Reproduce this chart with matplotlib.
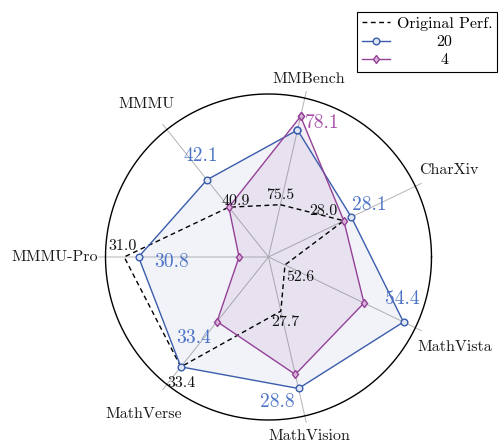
import numpy as np
import matplotlib
matplotlib.use("Agg")
import matplotlib.pyplot as plt

plt.rcParams['font.family'] = ['cmr10', 'DejaVu Serif']
plt.rcParams['axes.formatter.use_mathtext'] = True

# ---------------- data ----------------
categories = ["MMBench", "CharXiv", "MathVista", "MathVision", "MathVerse", "MMMU-Pro", "MMMU"]
orig_perf = [75.5, 28.0, 52.6, 27.7, 33.4, 31.0, 40.9]
s20 = [77.7, 28.1, 54.4, 28.8, 33.4, 30.8, 42.1]
s4 = [78.1, 28.0, 53.8, 28.6, 32.6, 29.4, 40.9]
axis_lo = [73.96, 27.0, 52.35, 26.93, 31.46, 28.99, 38.72]
axis_hi = [78.64, 28.95, 54.58, 29.19, 33.71, 31.26, 44.30]
series_names = ["Original Perf.", "20", "4"]

# ---------------- style ----------------
BLUE = "#3a5cab"
BLUE_TXT = "#4d74c6"
PURPLE = "#944197"
PURPLE_TXT = "#a64ca8"
GRAY = "#b4b4b4"

n = len(categories)
theta = np.deg2rad(77.14 - np.arange(n) * 360.0 / n)


def norm(vals):
    v = np.asarray(vals, float)
    lo = np.asarray(axis_lo)
    hi = np.asarray(axis_hi)
    return (v - lo) / (hi - lo)


def closed(a):
    a = np.asarray(a)
    return np.concatenate([a, a[:1]])


fig = plt.figure(figsize=(5.0, 4.44), dpi=100)
cx, cy, R = 268.5, 444 - 257.0, 163.0
ax = fig.add_axes([(cx - R) / 500, (cy - R) / 444, 2 * R / 500, 2 * R / 444], projection='polar')
ax.set_ylim(0, 1)
ax.grid(False)
ax.set_xticks([])
ax.set_yticks([])
ax.spines['polar'].set_visible(False)
ax.set_facecolor('none')

# outer circle frame
circ_t = np.linspace(0, 2 * np.pi, 721)
ax.plot(circ_t, np.ones_like(circ_t), color='black', lw=1.0, clip_on=False, zorder=3,
        solid_joinstyle='round')

# spokes
for th in theta:
    ax.plot([th, th], [0, 1.04], color=GRAY, lw=0.7, clip_on=False, zorder=1)

r_orig = norm(orig_perf)
r20 = norm(s20)
r4 = norm(s4)
th_c = closed(theta)

ax.fill(th_c, closed(r20), color=BLUE, alpha=0.07, lw=0, zorder=2)
ax.fill(th_c, closed(r4), color=PURPLE, alpha=0.09, lw=0, zorder=2)
l_orig, = ax.plot(th_c, closed(r_orig), color='black', lw=1.0, ls=(0, (3.5, 2.5)), zorder=4,
                  label=series_names[0])
l20, = ax.plot(th_c, closed(r20), color=BLUE, lw=1.0, marker='o', ms=4.8, mfc='#dfe6f4',
               mec=BLUE, mew=1.0, zorder=5, label=series_names[1])
l4, = ax.plot(th_c, closed(r4), color=PURPLE, lw=1.0, marker='d', ms=4.5, mfc='#d9b5d9',
              mec=PURPLE, mew=1.0, zorder=5, label=series_names[2])

# category labels
label_r = [1.12, 1.23, 1.27, 1.13, 1.23, 1.31, 1.20]
for th, lab, rr in zip(theta, categories, label_r):
    ax.text(th, rr, lab, ha='center', va='center', fontsize=11.5, color='#1a1a1a', clip_on=False)

# original value labels (offsets in pixels)
orig_off = [(0, 10), (-20, 10), (15, -12), (4, -11), (1, -16), (-2, 11), (7, 6)]
for th, r, v, off in zip(theta, r_orig, orig_perf, orig_off):
    ax.annotate(f"{v:.1f}", (th, r), xytext=off, textcoords='offset pixels',
                ha='center', va='center', fontsize=11.5, color='#111111', zorder=6,
                annotation_clip=False)

# best of the two series labels
best_off = [(22, -7), (18, 12), (-1, 23), (-21, -14), (13, 29), (33, -5), (-6, 24)]
for i in range(n):
    if s4[i] > s20[i]:
        v, r, c = s4[i], r4[i], PURPLE_TXT
    else:
        v, r, c = s20[i], r20[i], BLUE_TXT
    ax.annotate(f"{v:.1f}", (theta[i], r), xytext=best_off[i], textcoords='offset pixels',
                ha='center', va='center', fontsize=14, color=c, zorder=6,
                annotation_clip=False)

leg = fig.legend(handles=[l_orig, l20, l4], loc='upper right',
                 bbox_to_anchor=(497 / 500, 1 - 12 / 444), borderaxespad=0,
                 fancybox=False, framealpha=1, edgecolor='black', fontsize=11.5,
                 handlelength=1.75, handletextpad=0.4, labelspacing=0.25,
                 borderpad=0.3, numpoints=1)
leg.get_frame().set_linewidth(0.8)

fig.canvas.draw()
texts = leg.get_texts()
widths = [t.get_window_extent().width for t in texts]
wmax = max(widths)
for t, w in zip(texts, widths):
    t.set_x((wmax - w) / 2)

fig.savefig("out.png", dpi=100)
